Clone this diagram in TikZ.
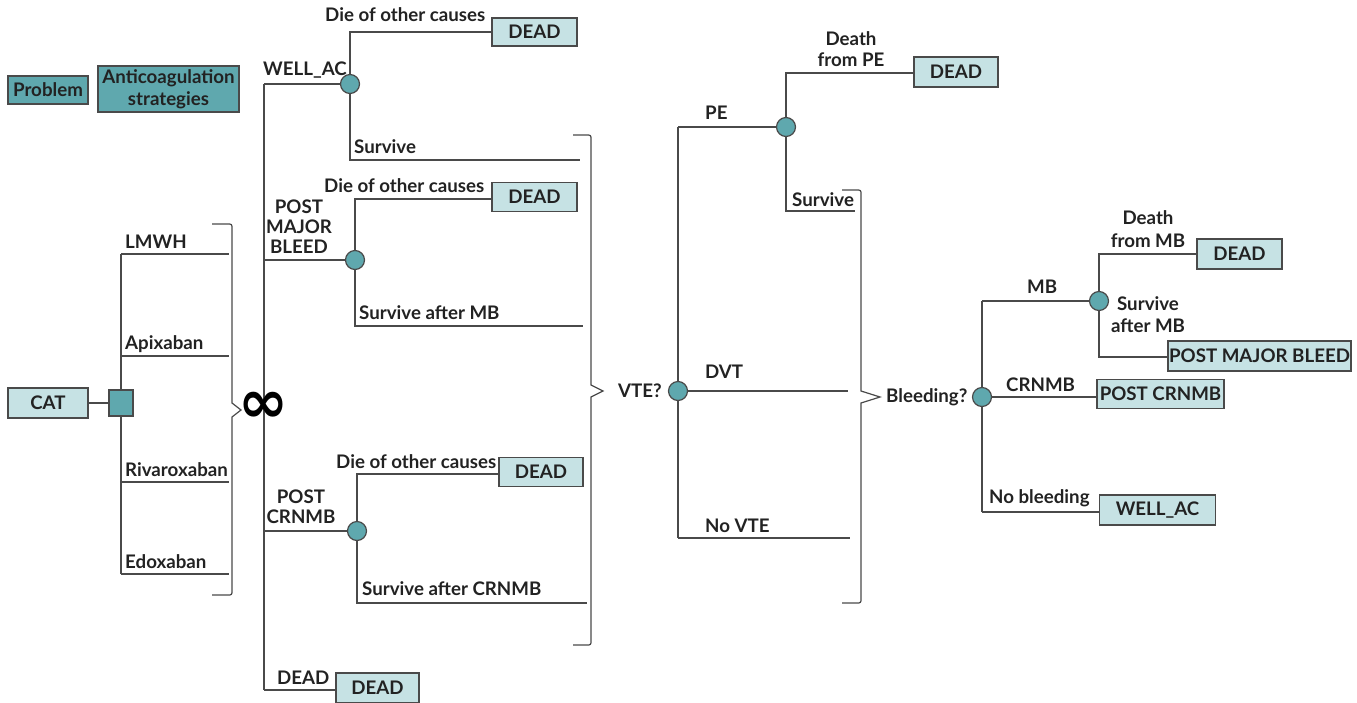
\documentclass[tikz,border=0pt]{standalone}
\usepackage{fontspec}
\setmainfont{Lato}
\newfontfamily\djv{DejaVu Sans}
\definecolor{linec}{HTML}{4A4A4A}
\definecolor{tealdark}{HTML}{5FA8AE}
\definecolor{tealight}{HTML}{C6E2E4}
\definecolor{txt}{HTML}{222222}
\newcommand\lbfont{\bfseries\fontsize{18.7}{23}\selectfont}
\newcommand\inffont{\djv\bfseries\fontsize{60}{60}\selectfont}
\tikzset{
 ln/.style={draw=linec, line width=1.4pt},
 chance/.style={circle, draw=linec, line width=1.2pt, fill=tealdark, minimum size=19pt, inner sep=0pt},
 term/.style={draw=linec, line width=1.3pt, fill=tealight, inner sep=0pt, font=\lbfont, text=txt},
 darkbox/.style={term, fill=tealdark},
 lbl/.style={anchor=base west, inner sep=0pt, font=\lbfont, text=txt},
 clbl/.style={anchor=base, inner sep=0pt, font=\lbfont, text=txt},
}
\begin{document}
\begin{tikzpicture}[x=1pt,y=-1pt]
\useasboundingbox (0,0) rectangle (1357,702);

% legend
\node[darkbox, minimum width=80pt, minimum height=28pt] (prob) at (48,90) {Problem};
\node[darkbox, minimum width=141pt, minimum height=46pt, align=center] (anti) at (168.5,89) {Anticoagulation\\[-1pt]strategies};

% root
\node[term, minimum width=80pt, minimum height=30pt] (cat) at (48,403) {CAT};
\coordinate (sqt) at (121,254);
\coordinate (sqb) at (121,574);
\draw[ln] (sqt) -- (sqb);
\node[darkbox, minimum width=24pt, minimum height=26pt] (sq) at (121,403) {};
\draw[ln] (cat.east) -- (sq.west);
\coordinate (e1) at (229,254);
\coordinate (e2) at (229,356);
\coordinate (e3) at (229,482);
\coordinate (e4) at (229,574);
\draw[ln] (sqt) -- (e1);
\draw[ln] (121,356) -- (e2);
\draw[ln] (121,482) -- (e3);
\draw[ln] (sqb) -- (e4);
\node[lbl] at (125,248) {LMWH};
\node[lbl] at (125,349) {Apixaban};
\node[lbl] at (125,476) {Rivaroxaban};
\node[lbl] at (125,568) {Edoxaban};

% brace 1
\draw[ln, line width=1.2pt] (212,224) -- (227,224) .. controls (232,224) .. (232,229) -- (232,403) -- (241,410) -- (232,417) -- (232,590) .. controls (232,595) .. (227,595) -- (212,595);

% Markov main vertical
\coordinate (mt) at (264,84);
\coordinate (mb) at (264,690);
\draw[ln] (mt) -- (mb);
\node[inner sep=0pt, text=black, font=\inffont] (inf) at (263,407) {∞};

% WELL_AC
\node[chance] (cw) at (350,84) {};
\draw[ln] (mt) -- (cw);
\node[lbl] at (263,75) {WELL\_AC};
\node[term, minimum width=85pt, minimum height=28pt] (d1) at (534.5,32) {DEAD};
\coordinate (cwt) at (350,32);
\coordinate (cwb) at (350,160);
\coordinate (cwe) at (580,160);
\draw[ln] (cw) -- (cwt) -- (d1.west);
\draw[ln] (cw) -- (cwb) -- (cwe);
\node[lbl] at (325,21) {Die of other causes};
\node[lbl] at (354,153) {Survive};

% POST MAJOR BLEED
\node[chance] (cp) at (355,260) {};
\draw[ln] (264,260) -- (cp);
\node[clbl] at (299,213) {POST};
\node[clbl] at (299,233) {MAJOR};
\node[clbl] at (299,253) {BLEED};
\node[term, minimum width=85pt, minimum height=29pt] (d2) at (534.5,197) {DEAD};
\coordinate (cpt) at (355,199);
\coordinate (cpb) at (355,326);
\coordinate (cpe) at (583,326);
\draw[ln] (cp) -- (cpt) -- (cpt -| d2.west);
\draw[ln] (cp) -- (cpb) -- (cpe);
\node[lbl] at (324,192) {Die of other causes};
\node[lbl] at (359,319) {Survive after MB};

% POST CRNMB
\node[chance] (cc) at (357,531) {};
\draw[ln] (264,531) -- (cc);
\node[clbl] at (301,503) {POST};
\node[clbl] at (301,523) {CRNMB};
\node[term, minimum width=84pt, minimum height=29pt] (d3) at (541,472) {DEAD};
\coordinate (cct) at (357,474);
\coordinate (ccb) at (357,603);
\coordinate (cce) at (587,603);
\draw[ln] (cc) -- (cct) -- (cct -| d3.west);
\draw[ln] (cc) -- (ccb) -- (cce);
\node[lbl] at (336,468) {Die of other causes};
\node[lbl] at (362,595) {Survive after CRNMB};

% DEAD
\node[term, minimum width=83pt, minimum height=30pt] (d4) at (377.5,688) {DEAD};
\draw[ln] (mb) -- (mb -| d4.west);
\node[lbl] at (277,684) {DEAD};

% brace 2
\draw[ln, line width=1.2pt] (573,135) -- (586,135) .. controls (591,135) .. (591,140) -- (591,385) -- (603,391) -- (591,397) -- (591,640) .. controls (591,645) .. (586,645) -- (573,645);

% VTE chance
\node[chance] (vte) at (678,391) {};
\node[lbl] at (618,397) {VTE?};
\coordinate (vt) at (678,127);
\coordinate (vb) at (678,538);
\draw[ln] (vte) -- (vt);
\draw[ln] (vte) -- (vb);
\node[chance] (pe) at (786,127) {};
\draw[ln] (vt) -- (pe);
\node[lbl] at (705,119) {PE};
\coordinate (dvte) at (848,391);
\coordinate (nve) at (850,538);
\draw[ln] (vte) -- (dvte);
\draw[ln] (vb) -- (nve);
\node[lbl] at (705,378) {DVT};
\node[lbl] at (705,532) {No VTE};

% PE chance
\node[term, minimum width=84pt, minimum height=30pt] (d5) at (956,72) {DEAD};
\coordinate (pet) at (786,73);
\coordinate (peb) at (786,211);
\coordinate (pee) at (855,211);
\draw[ln] (pe) -- (pet) -- (pet -| d5.west);
\draw[ln] (pe) -- (peb) -- (pee);
\node[clbl] at (851,45) {Death};
\node[clbl] at (851,66) {from PE};
\node[lbl] at (792,206) {Survive};

% brace 3
\draw[ln, line width=1.2pt] (842,190) -- (856,190) .. controls (861,190) .. (861,195) -- (861,391) -- (880,397) -- (861,403) -- (861,598) .. controls (861,603) .. (856,603) -- (842,603);

% Bleeding chance
\node[chance] (bl) at (982,397) {};
\node[lbl] at (886,402) {Bleeding?};
\coordinate (blt) at (982,301);
\coordinate (blb) at (982,512);
\draw[ln] (bl) -- (blt);
\draw[ln] (bl) -- (blb);
\node[chance] (mbc) at (1099,301) {};
\draw[ln] (blt) -- (mbc);
\node[lbl] at (1027,293) {MB};
\node[term, minimum width=127pt, minimum height=29pt] (pcr) at (1160.5,394) {POST CRNMB};
\draw[ln] (bl) -- (bl -| pcr.west);
\node[lbl] at (1006,391) {CRNMB};
\node[term, minimum width=116pt, minimum height=30pt] (wac) at (1157.5,510) {WELL\_AC};
\draw[ln] (blb) -- (blb -| wac.west);
\node[lbl] at (989,503) {No bleeding};

% MB chance
\node[term, minimum width=85pt, minimum height=30pt] (d6) at (1239.5,254) {DEAD};
\node[term, minimum width=183pt, minimum height=30pt] (pmb) at (1259.5,356) {POST MAJOR BLEED};
\coordinate (mbt) at (1099,254);
\coordinate (mbb) at (1099,357);
\draw[ln] (mbc) -- (mbt) -- (mbt -| d6.west);
\draw[ln] (mbc) -- (mbb) -- (mbb -| pmb.west);
\node[clbl] at (1148,224) {Death};
\node[clbl] at (1148,247) {from MB};
\node[clbl] at (1148,310) {Survive};
\node[clbl] at (1148,332) {after MB};
\end{tikzpicture}
\end{document}
